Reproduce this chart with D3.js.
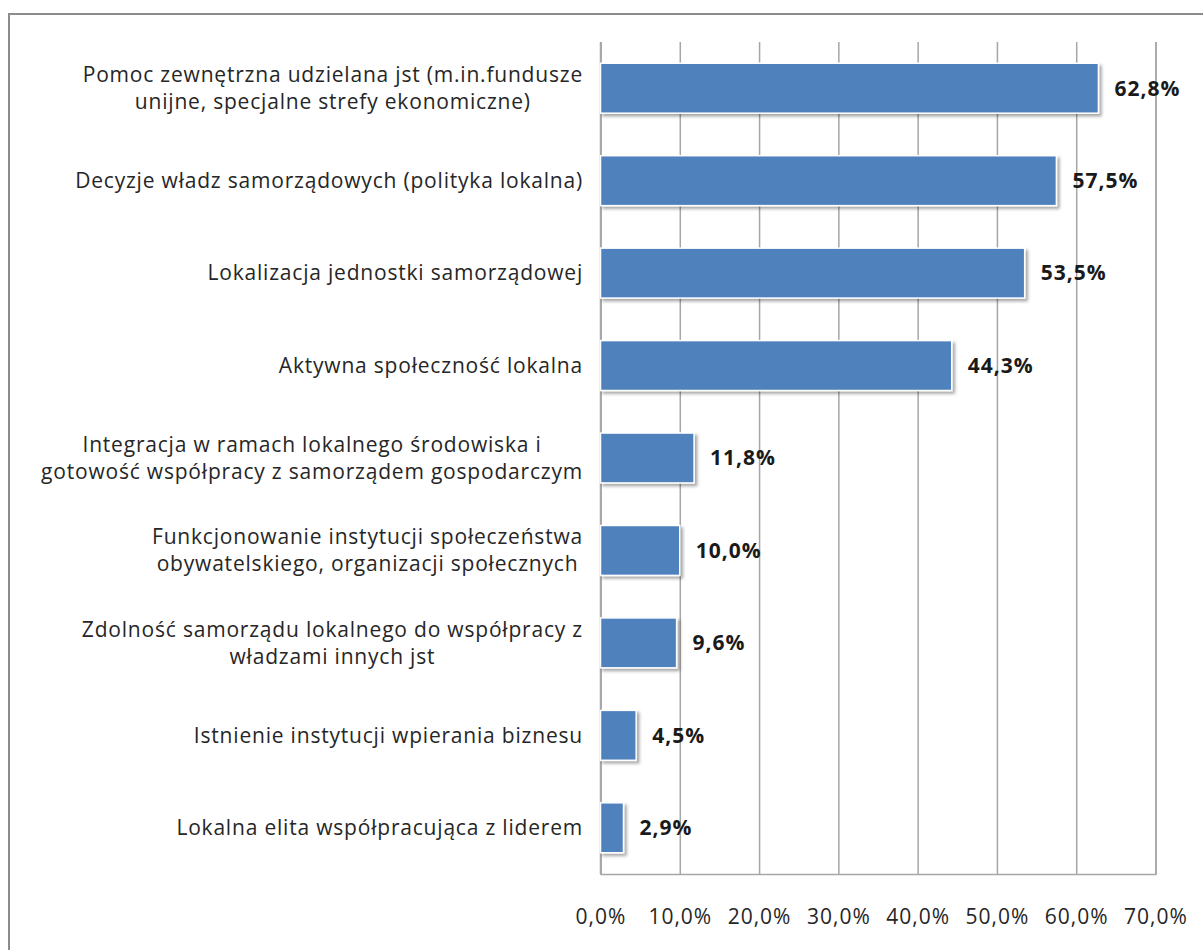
<!DOCTYPE html>
<html>
<head>
<meta charset="utf-8">
<script src="https://cdn.jsdelivr.net/npm/d3@7"></script>
<style>
  html, body { margin: 0; padding: 0; background: #fff; }
  svg { display: block; }
</style>
</head>
<body>
<svg id="chart" width="1203" height="950"></svg>
<script>
const categories = [
  ["Pomoc zewnętrzna udzielana jst (m.in.fundusze", "unijne, specjalne strefy ekonomiczne)"],
  ["Decyzje władz samorządowych (polityka lokalna)"],
  ["Lokalizacja jednostki samorządowej"],
  ["Aktywna społeczność lokalna"],
  ["Integracja w ramach lokalnego środowiska i", "gotowość współpracy z samorządem gospodarczym"],
  ["Funkcjonowanie instytucji społeczeństwa", "obywatelskiego, organizacji społecznych"],
  ["Zdolność samorządu lokalnego do współpracy z", "władzami innych jst"],
  ["Istnienie instytucji wpierania biznesu"],
  ["Lokalna elita współpracująca z liderem"]
];
const values = [62.8, 57.5, 53.5, 44.3, 11.8, 10.0, 9.6, 4.5, 2.9];
const tickValues = [0, 10, 20, 30, 40, 50, 60, 70];

(function () {
const fontFamily = "'Open Sans', sans-serif";
const svg = d3.select("#chart");

// outer border
svg.append("path")
  .attr("d", "M9,951 L9,14 L1204,14")
  .attr("fill", "none").attr("stroke", "#8c8c8c").attr("stroke-width", 2);

const pLeft = 600.5, pRight = 1155.5, pTop = 42, pBottom = 874;
const x = d3.scaleLinear().domain([0, 70]).range([pLeft, pRight]);
const idx = d3.range(values.length);
const y = d3.scaleBand().domain(idx).range([pTop, pBottom]).paddingInner(0.46).paddingOuter(0.23);

const defs = svg.append("defs");
const f = defs.append("filter").attr("id", "shadow").attr("x", "-20%").attr("y", "-30%").attr("width", "150%").attr("height", "170%");
f.append("feDropShadow").attr("dx", 2.5).attr("dy", 2.5).attr("stdDeviation", 1.8)
  .attr("flood-color", "#000").attr("flood-opacity", 0.35);

// gridlines
const grid = d3.axisBottom(x).tickValues(tickValues).tickSize(-(pBottom - pTop)).tickFormat("");
svg.append("g").attr("transform", `translate(0,${pBottom})`).call(grid)
  .call(g => g.select(".domain").attr("stroke", "#a6a6a6").attr("stroke-width", 1.5))
  .call(g => g.selectAll(".tick line").attr("stroke", "#a6a6a6").attr("stroke-width", 1.5));

// left axis line
svg.append("line").attr("x1", pLeft).attr("x2", pLeft).attr("y1", pTop).attr("y2", pBottom)
  .attr("stroke", "#a6a6a6").attr("stroke-width", 1.5);

// tick labels
const axis = d3.axisBottom(x).tickValues(tickValues).tickSize(0).tickPadding(0)
  .tickFormat(d => d.toFixed(1).replace(".", ",") + "%");
svg.append("g").attr("transform", `translate(0,${pBottom})`).call(axis)
  .call(g => g.select(".domain").remove())
  .call(g => g.selectAll(".tick text")
    .attr("y", 50).attr("dy", null)
    .attr("font-family", fontFamily).attr("font-size", 21).attr("letter-spacing", 1)
    .attr("fill", "#262626"));

// bars
svg.append("g").selectAll("rect").data(idx).join("rect")
  .attr("x", x(0))
  .attr("y", i => y(i))
  .attr("width", i => x(values[i]) - x(0))
  .attr("height", y.bandwidth())
  .attr("fill", "#4f81bd")
  .attr("stroke", "#ffffff").attr("stroke-width", 1.5)
  .attr("filter", "url(#shadow)");

// value labels
svg.append("g").selectAll("text").data(idx).join("text")
  .attr("x", i => x(values[i]) + 16)
  .attr("y", i => y(i) + y.bandwidth() / 2)
  .attr("dy", "0.35em")
  .attr("font-family", fontFamily).attr("font-size", 21).attr("font-weight", "bold")
  .attr("letter-spacing", 1)
  .attr("fill", "#1a1a1a")
  .text(i => values[i].toFixed(1).replace(".", ",") + "%");

// category labels
const labelRight = 583, lineH = 27;
const lg = svg.append("g");
idx.forEach(i => {
  const lines = categories[i];
  const cy = y(i) + y.bandwidth() / 2;
  const t = lg.append("text")
    .attr("font-family", fontFamily).attr("font-size", 21).attr("letter-spacing", 0.8)
    .attr("fill", "#262626")
    .attr("text-anchor", "middle");
  const spans = lines.map((ln, k) => t.append("tspan").text(ln)
    .attr("y", cy + (k - (lines.length - 1) / 2) * lineH).attr("dy", "0.35em"));
  const maxW = d3.max(spans, s => s.node().getComputedTextLength());
  spans.forEach(s => s.attr("x", labelRight - maxW / 2));
});
})();
</script>
</body>
</html>
